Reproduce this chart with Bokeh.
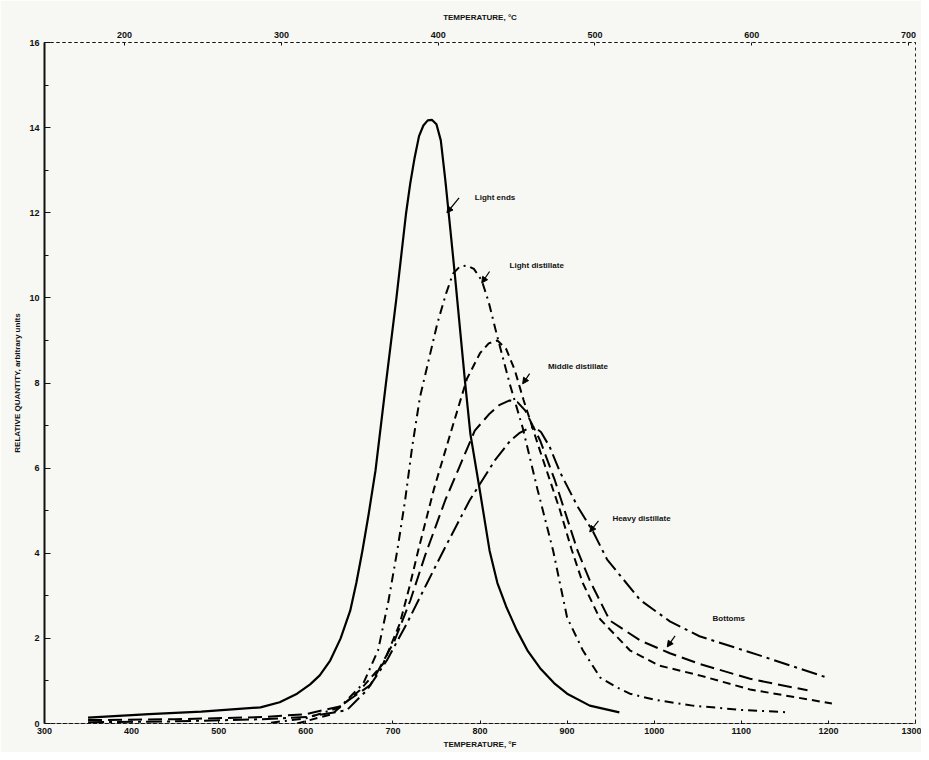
from bokeh.plotting import figure
from bokeh.models import Range1d, LinearAxis, FixedTicker, Label, Arrow, NormalHead
from bokeh.embed import file_html
from bokeh.resources import INLINE

# ---------------- data ----------------
light_ends_x = [350, 420, 480, 548, 570, 590, 605, 616, 628, 640, 651, 658, 665, 672, 680, 692, 704,
                715, 720, 725, 730, 735, 740, 745, 750, 755, 760, 766, 771, 783, 789, 800, 811,
                820, 830, 842, 855, 869, 885, 900, 926, 960]
light_ends_y = [0.14, 0.22, 0.28, 0.38, 0.5, 0.7, 0.92, 1.13, 1.48, 2.0, 2.65, 3.3, 4.06, 4.9, 5.94,
                7.99, 9.99, 11.97, 12.7, 13.3, 13.8, 14.05, 14.17, 14.18, 14.08, 13.7, 12.8, 11.6,
                10.57, 7.99, 6.80, 5.45, 4.06, 3.3, 2.75, 2.2, 1.7, 1.3, 0.95, 0.70, 0.42, 0.26]

light_dist_x = [560, 600, 639, 666, 683, 695, 705, 714, 722, 731, 751, 761, 769, 777, 785, 793, 802,
                810, 819, 834, 849, 866, 884, 900, 918, 938, 957, 972, 1000, 1044, 1100, 1155]
light_dist_y = [0.02, 0.12, 0.38, 0.94, 1.72, 2.89, 4.06, 5.24, 6.48, 7.66, 9.40, 10.1, 10.57, 10.74,
                10.76, 10.68, 10.41, 9.9, 9.16, 7.99, 6.95, 5.5, 4.06, 2.49, 1.72, 1.08, 0.85, 0.70,
                0.56, 0.42, 0.32, 0.26]

middle_dist_x = [590, 630, 662, 689, 708, 720, 729, 747, 766, 785, 800, 810, 820, 830, 840, 850, 869,
                 892, 905, 918, 938, 972, 1006, 1052, 1110, 1204]
middle_dist_y = [0.0, 0.22, 0.78, 1.41, 2.35, 3.29, 4.06, 5.5, 6.81, 8.1, 8.7, 8.93, 9.0, 8.8, 8.3,
                 7.6, 6.4, 5.0, 4.1, 3.3, 2.45, 1.72, 1.36, 1.13, 0.8, 0.47]

heavy_dist_x = [350, 450, 550, 600, 639, 674, 702, 720, 737, 760, 777, 794, 811, 822, 834, 843, 852,
                869, 886, 912, 926, 949, 984, 1018, 1052, 1110, 1176]
heavy_dist_y = [0.08, 0.1, 0.15, 0.22, 0.4, 0.9, 1.95, 2.89, 3.95, 5.24, 6.06, 6.88, 7.28, 7.48, 7.59,
                7.55, 7.35, 6.65, 5.71, 4.06, 3.36, 2.42, 1.95, 1.65, 1.40, 1.05, 0.78]

bottoms_x = [350, 450, 550, 600, 647, 670, 693, 716, 739, 758, 788, 817, 835, 845, 855, 862, 870, 880,
             892, 912, 930, 946, 984, 1018, 1052, 1121, 1201]
bottoms_y = [0.03, 0.05, 0.1, 0.15, 0.31, 0.78, 1.48, 2.35, 3.29, 4.06, 5.24, 6.18, 6.65, 6.82, 6.93,
             6.97, 6.85, 6.5, 5.9, 5.1, 4.5, 3.85, 2.9, 2.4, 2.05, 1.6, 1.06]

y_ticks = [0, 2, 4, 6, 8, 10, 12, 14, 16]
y_minor = [1, 3, 5, 7, 9, 11, 13, 15]
f_ticks = [300, 400, 500, 600, 700, 800, 900, 1000, 1100, 1200, 1300]
c_ticks = [200, 300, 400, 500, 600, 700]

# annotation text + arrows (label anchor, arrow start, arrow end) in data units
annotations = [
    ("Light ends",        (794, 12.36), (776, 12.35), (762, 12.0)),
    ("Light distillate",  (834, 10.76), (811, 10.62), (802, 10.35)),
    ("Middle distillate", (878, 8.39),  (857, 8.22),  (849, 7.98)),
    ("Heavy distillate",  (952, 4.82),  (936, 4.76),  (926, 4.5)),
    ("Bottoms",           (1067, 2.47), (1024, 2.06), (1015, 1.8)),
]

# ---------------- figure ----------------
BG = "#f7f8f3"
FONT = "Liberation Sans"
c_lo = (300 - 32) / 1.8
c_hi = (1300 - 32) / 1.8

p = figure(width=921, height=752, output_backend="svg", toolbar_location=None,
           x_range=Range1d(300, 1300), y_range=Range1d(0, 16),
           min_border_left=44, min_border_right=6, min_border_top=42, min_border_bottom=29)
p.background_fill_color = BG
p.border_fill_color = BG
p.xgrid.visible = False
p.ygrid.visible = False
p.outline_line_color = "#222222"
p.outline_line_dash = "3 3"
p.outline_line_width = 1

p.extra_x_ranges = {"C": Range1d(c_lo, c_hi)}

def style_axis(ax, label):
    ax.axis_label = label
    ax.axis_label_text_font = FONT
    ax.axis_label_text_font_style = "bold"
    ax.axis_label_text_font_size = "8px"
    ax.axis_label_text_color = "#111111"
    ax.major_label_text_font = FONT
    ax.major_label_text_font_style = "bold"
    ax.major_label_text_font_size = "9px"
    ax.major_label_text_color = "#111111"
    ax.major_tick_out = 0
    ax.minor_tick_out = 0
    ax.major_tick_line_color = "#111111"
    ax.minor_tick_line_color = "#111111"
    ax.axis_line_color = "#111111"

xa = p.xaxis[0]
style_axis(xa, "TEMPERATURE, °F")
xa.ticker = FixedTicker(ticks=f_ticks, minor_ticks=[])
xa.major_tick_in = 3
xa.axis_line_dash = "3 3"
xa.major_label_standoff = 4
xa.axis_label_standoff = 3

ya = p.yaxis[0]
style_axis(ya, "RELATIVE QUANTITY, arbitrary units")
ya.ticker = FixedTicker(ticks=y_ticks, minor_ticks=y_minor)
ya.major_tick_in = 6
ya.minor_tick_in = 4
ya.axis_line_width = 2
ya.major_label_standoff = 5
ya.axis_label_standoff = 4

top = LinearAxis(x_range_name="C", ticker=FixedTicker(ticks=c_ticks, minor_ticks=[]))
style_axis(top, "TEMPERATURE, °C")
top.major_tick_in = 3
top.axis_line_dash = "3 3"
top.major_label_standoff = 5
top.axis_label_standoff = 7
p.add_layout(top, "above")

# ---------------- curves ----------------
p.line(light_ends_x, light_ends_y, line_color="black", line_width=2.2, line_join="round")
p.line(light_dist_x, light_dist_y, line_color="black", line_width=2, line_dash="9 5 2 5")
p.line(middle_dist_x, middle_dist_y, line_color="black", line_width=2, line_dash="8 5")
p.line(heavy_dist_x, heavy_dist_y, line_color="black", line_width=2, line_dash="14 6")
p.line(bottoms_x, bottoms_y, line_color="black", line_width=2, line_dash="16 5 3 5")

for text, (tx, ty), (x0, y0), (x1, y1) in annotations:
    p.add_layout(Label(x=tx, y=ty, text=text, text_font=FONT, text_font_style="bold",
                       text_font_size="8px", text_color="#111111", text_baseline="middle"))
    p.add_layout(Arrow(end=NormalHead(size=6, fill_color="black", line_color="black"),
                       x_start=x0, y_start=y0, x_end=x1, y_end=y1,
                       line_color="black", line_width=1.2))

open("out.html", "w").write(file_html(p, INLINE))
